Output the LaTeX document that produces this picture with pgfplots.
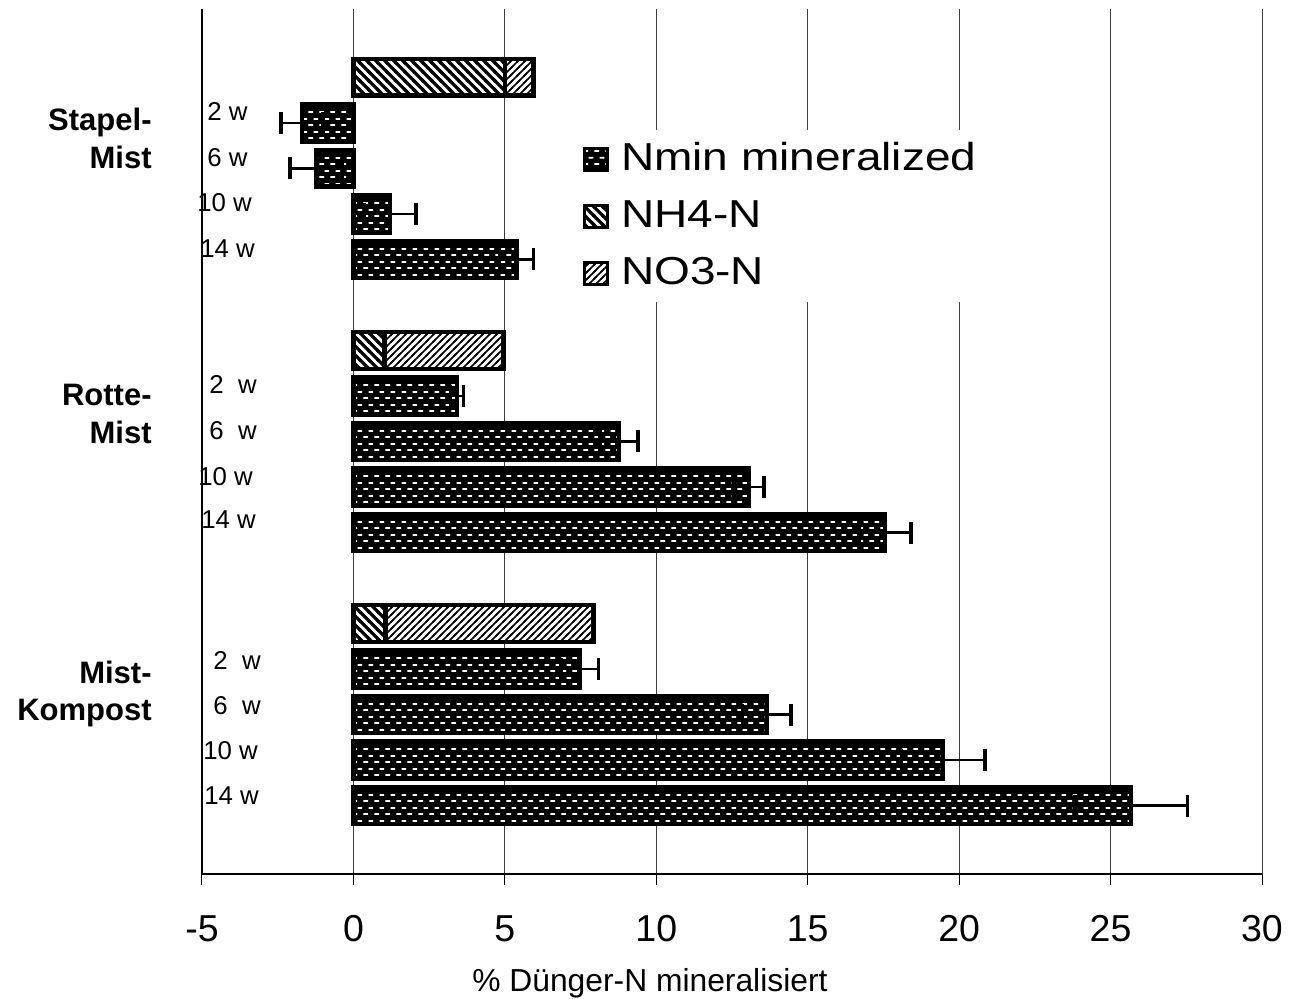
\documentclass[border=0pt]{standalone}
\usepackage{fontspec}
\setmainfont{Liberation Sans}
\usepackage{graphicx}
\usepackage{pgfplots}
\usepackage{pgfplotstable}
\pgfplotsset{compat=1.18}
\usetikzlibrary{patterns}

\pgfdeclarepatternformonly{nminbricks}{\pgfqpoint{0pt}{0pt}}{\pgfqpoint{5.5pt}{6.5pt}}{\pgfqpoint{5.5pt}{6.5pt}}{%
  \pgfsetlinewidth{0.9pt}%
  \pgfpathmoveto{\pgfqpoint{0.25pt}{1.6pt}}\pgfpathlineto{\pgfqpoint{2.75pt}{1.6pt}}%
  \pgfpathmoveto{\pgfqpoint{3pt}{4.85pt}}\pgfpathlineto{\pgfqpoint{5.5pt}{4.85pt}}%
  \pgfusepath{stroke}}
\pgfdeclarepatternformonly{nwthick}{\pgfqpoint{-1pt}{-1pt}}{\pgfqpoint{5.5pt}{5.5pt}}{\pgfqpoint{4.5pt}{4.5pt}}{%
  \pgfsetlinewidth{1.6pt}%
  \pgfpathmoveto{\pgfqpoint{-1pt}{5.5pt}}\pgfpathlineto{\pgfqpoint{5.5pt}{-1pt}}%
  \pgfusepath{stroke}}
\pgfdeclarepatternformonly{nethin}{\pgfqpoint{-1pt}{-1pt}}{\pgfqpoint{4.5pt}{4.5pt}}{\pgfqpoint{3.5pt}{3.5pt}}{%
  \pgfsetlinewidth{0.8pt}%
  \pgfpathmoveto{\pgfqpoint{-1pt}{-1pt}}\pgfpathlineto{\pgfqpoint{4.5pt}{4.5pt}}%
  \pgfusepath{stroke}}

\tikzset{
  nminstyle/.style={draw=black, preaction={fill=black}, pattern=nminbricks, pattern color=white},
  nhstyle/.style={draw=black, preaction={fill=white}, pattern=nwthick, pattern color=black},
  nostyle/.style={draw=black, preaction={fill=white}, pattern=nethin, pattern color=black},
}

% Nmin mineralized: row index, value, error
\pgfplotstableread{
r v e
1 -1.70 0.69
2 -1.23 0.87
3 1.21 0.85
4 5.38 0.56
7 3.42 0.21
8 8.77 0.62
9 13.06 0.49
10 17.55 0.86
13 7.47 0.62
14 13.65 0.80
15 19.47 1.38
16 25.68 1.86
}\nmintable

% NH4-N and NO3-N (stacked)
\pgfplotstableread{
r nh no
0 5.00 0.95
6 1.03 3.93
12 1.05 6.87
}\stacktable

\begin{document}
\begin{tikzpicture}
\useasboundingbox (0,0) rectangle (645.5pt,499.5pt);
\begin{axis}[
  at={(101pt,62.5pt)}, anchor=south west,
  width=530pt, height=432.5pt, scale only axis,
  xmin=-5, xmax=30, ymin=-1.5, ymax=17.5, y dir=reverse,
  axis x line*=bottom, axis y line*=left,
  axis line style={-, black, line width=0.65pt},
  xtick={-5,0,5,10,15,20,25,30},
  xticklabels={-5,0,5,10,15,20,25,30},
  ytick=\empty,
  tick align=outside, major tick length=5.5pt,
  x tick style={black, line width=0.5pt},
  xmajorgrids, grid style={black!75, line width=0.5pt},
  xticklabel style={font=\fontsize{18.75}{22}\selectfont, anchor=north, inner sep=0pt, yshift=-15pt},
  clip=false,
  legend image code/.code={\draw[#1, line width=1.3pt] (0pt,-5.5pt) rectangle (11.5pt,5.5pt);},
  legend cell align=left,
  legend style={at={(0.3519,0.8601)}, anchor=north west, draw=none, fill=white,
    inner xsep=4pt, inner ysep=3pt, row sep=5.5pt,
    font=\fontsize{19.5}{23}\selectfont,
    nodes={inner ysep=2pt, inner xsep=6pt, text height=15pt, text depth=4pt}},
]
\addplot[xbar, bar shift=0pt, bar width=0.81, nminstyle, line width=2.3pt, forget plot,
  error bars/.cd, x dir=both, x explicit, error mark=|,
  error bar style={line width=1.25pt, black, solid},
  error mark options={line width=1.8pt, mark size=5.5pt, black, solid}]
  table[x=v, y=r, x error=e] {\nmintable};
\addplot[xbar, bar shift=0pt, bar width=0.81, nostyle, line width=2.3pt, forget plot]
  table[x expr=\thisrow{nh}+\thisrow{no}, y=r] {\stacktable};
\addplot[xbar, bar shift=0pt, bar width=0.81, nhstyle, line width=2.3pt, forget plot]
  table[x=nh, y=r] {\stacktable};

\addlegendimage{nminstyle}
\addlegendentry{\scalebox{1.18}[1]{Nmin mineralized}}
\addlegendimage{nhstyle}
\addlegendentry{\scalebox{1.18}[1]{NH4-N}}
\addlegendimage{nostyle}
\addlegendentry{\scalebox{1.18}[1]{NO3-N}}

% group labels
\begin{scope}[every node/.style={anchor=base east, inner sep=0pt, font=\fontsize{15.5}{18}\selectfont\bfseries}]
\node at (axis cs:-6.651,1.165) {Stapel-};
\node at (axis cs:-6.651,2.0) {Mist};
\node at (axis cs:-6.651,7.209) {Rotte-};
\node at (axis cs:-6.651,8.044) {Mist};
\node at (axis cs:-6.651,13.319) {Mist-};
\node at (axis cs:-6.651,14.132) {Kompost};
\end{scope}
% week labels
\begin{scope}[every node/.style={anchor=base west, inner sep=0pt, font=\fontsize{12.9}{15}\selectfont}]
\node at (axis cs:-4.835,0.945) {2 w};
\node at (axis cs:-4.835,1.956) {6 w};
\node at (axis cs:-5.165,2.945) {10 w};
\node at (axis cs:-5.066,3.956) {14 w};
\node at (axis cs:-4.769,6.945) {2~~w};
\node at (axis cs:-4.769,7.956) {6~~w};
\node at (axis cs:-5.132,8.967) {10 w};
\node at (axis cs:-5.033,9.912) {14 w};
\node at (axis cs:-4.637,13.011) {2~~w};
\node at (axis cs:-4.637,14.0) {6~~w};
\node at (axis cs:-4.967,14.989) {10 w};
\node at (axis cs:-4.934,15.978) {14 w};
\end{scope}
% axis title
\node[anchor=base, inner sep=0pt, font=\fontsize{15.9}{18}\selectfont] at (axis cs:9.79,20.09) {\% Dünger-N mineralisiert};
\end{axis}
\end{tikzpicture}
\end{document}
